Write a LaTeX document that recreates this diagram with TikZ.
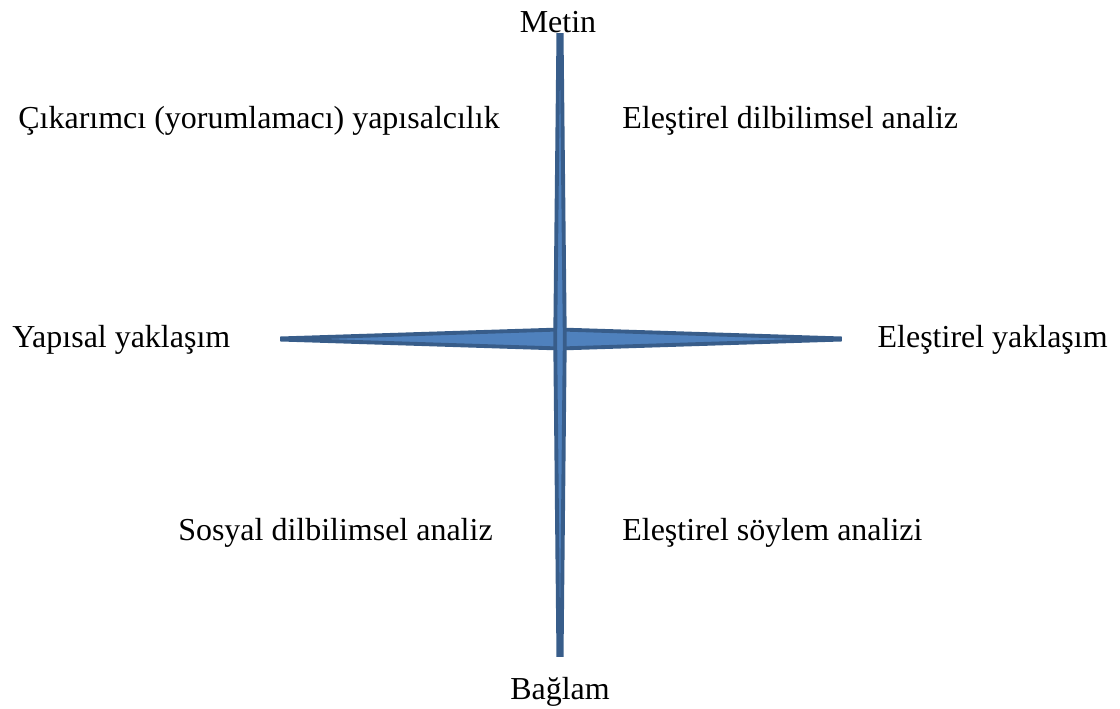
\documentclass[tikz,border=0pt]{standalone}
\usepackage{fontspec}
\setmainfont{Liberation Serif}
\usepackage{tikz}
\usetikzlibrary{positioning, calc}

\definecolor{spikefill}{HTML}{4F81BD}
\definecolor{spikeline}{HTML}{385D8A}

\tikzset{
  spike/.style={fill=spikefill, draw=spikeline, line width=2.2pt, line join=miter},
  label/.style={inner sep=0pt, font=\fontsize{18.2}{21}\selectfont}
}

\begin{document}
\begin{tikzpicture}[x=0.02cm, y=-0.02cm]

      \useasboundingbox (0,0) rectangle (1120,709);

      % Draw the horizontal spike.
      \fill[spike] (282,338.4) -- (560,329.5) -- (840,338.4) -- (840,339.6) --
      (560,348.5) -- (282,339.6) -- cycle;

      % Draw the vertical spike.
      \fill[spike] (558.4,35) -- (561.6,35) -- (564.8,339) -- (561.6,655) --
      (558.4,655) -- (555.2,339) -- cycle;

      % Draw the end labels.
      \node[label] (top) at (558,22) {Metin};
      \node[label] (bottom) at (560,692) {Bağlam};
      \node[label, anchor=west] (left) at (12,340) {Yapısal yaklaşım};
      \node[label, anchor=east] (right) at (1108,340) {Eleştirel yaklaşım};

      % Draw the quadrant labels.
      \node[label, anchor=east] (ul) at (500,121) {Çıkarımcı (yorumlamacı) yapısalcılık};
      \node[label, anchor=west] (ur) at (622,121) {Eleştirel dilbilimsel analiz};
      \node[label, anchor=east] (ll) at (493,533) {Sosyal dilbilimsel analiz};
      \node[label, anchor=west] (lr) at (622,533) {Eleştirel söylem analizi};
    \end{tikzpicture}
\end{document}
